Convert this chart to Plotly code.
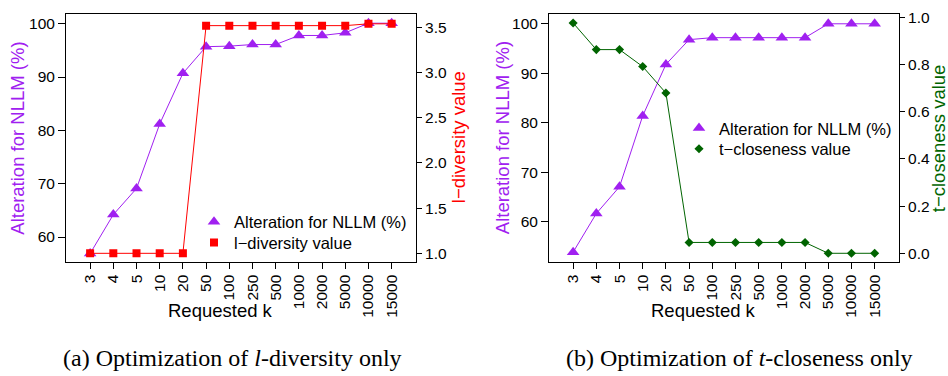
import plotly.graph_objects as go

# ---- data ----
k_labels = ["3", "4", "5", "10", "20", "50", "100", "250", "500", "1000", "2000", "5000", "10000", "15000"]

a_nllm = [56.9, 64.2, 69.1, 81.2, 90.7, 95.7, 95.8, 96.1, 96.1, 97.8, 97.8, 98.3, 100.1, 100.1]
a_ldiv = [1.0, 1.0, 1.0, 1.0, 1.0, 3.52, 3.52, 3.52, 3.52, 3.52, 3.52, 3.52, 3.54, 3.54]

b_nllm = [53.9, 61.7, 67.1, 81.4, 91.8, 96.8, 97.2, 97.2, 97.2, 97.2, 97.2, 100.0, 100.0, 100.0]
b_tclose = [0.977, 0.864, 0.864, 0.792, 0.680, 0.046, 0.046, 0.046, 0.046, 0.046, 0.046, 0.0, 0.0, 0.0]

left_ticks = [60, 70, 80, 90, 100]
ldiv_ticks = [1.0, 1.5, 2.0, 2.5, 3.0, 3.5]
tclose_ticks = [0.0, 0.2, 0.4, 0.6, 0.8, 1.0]

PURPLE = "#A020F0"
RED = "#FF0000"
GREEN = "#006400"
SANS = "Liberation Sans, Arial, sans-serif"
SERIF = "Liberation Serif, Times New Roman, serif"

W, H = 948, 376
idx = list(range(len(k_labels)))

fig = go.Figure()


def add_series(x, y, name, color, symbol, size, xa, ya, leg):
    fig.add_trace(go.Scatter(x=x, y=y, mode="lines", line=dict(color=color, width=1),
                             showlegend=False, hoverinfo="skip", xaxis=xa, yaxis=ya))
    fig.add_trace(go.Scatter(x=x, y=y, mode="markers", name=name,
                             marker=dict(symbol=symbol, size=size, color=color),
                             xaxis=xa, yaxis=ya, legend=leg, showlegend=True))


# panel (a)
add_series(idx, a_nllm, "Alteration for NLLM (%)", PURPLE, "triangle-up", 11, "x", "y", "legend")
add_series(idx, a_ldiv, "l\u2212diversity value", RED, "square", 8, "x", "y2", "legend3")
# panel (b)
add_series(idx, b_nllm, "Alteration for NLLM (%)", PURPLE, "triangle-up", 11, "x2", "y3", "legend2")
add_series(idx, b_tclose, "t\u2212closeness value", GREEN, "diamond", 7, "x2", "y4", "legend4")

ydom = [116 / H, 367 / H]
xdomA = [66 / W, 416 / W]
xdomB = [549 / W, 899 / W]

tickfont = dict(family=SANS, size=15.5, color="black")
common_axis = dict(showgrid=False, zeroline=False, ticks="outside", ticklen=6, tickwidth=1,
                   tickcolor="black", linecolor="black", linewidth=1, tickfont=tickfont)

xcommon = dict(common_axis, tickmode="array", tickvals=idx, ticktext=k_labels, tickangle=-90,
               range=[-1.04, 14.05], showline=True, mirror=True)

legfont = dict(family=SANS, size=16.5, color="black")


def leg(xpx, ypx):
    return dict(x=xpx / W, y=1 - ypx / H, xanchor="left", yanchor="middle", bgcolor="rgba(0,0,0,0)",
                font=legfont, itemwidth=30, borderwidth=0)


fig.update_layout(
    width=W, height=H, margin=dict(l=0, r=0, t=0, b=0),
    paper_bgcolor="white", plot_bgcolor="white",
    xaxis=dict(xcommon, domain=xdomA, anchor="y"),
    yaxis=dict(common_axis, domain=ydom, anchor="x", range=[55.4, 101.85], tickvals=left_ticks,
               showline=True, mirror=True, ticklen=7),
    yaxis2=dict(common_axis, overlaying="y", side="right", anchor="x", range=[0.909, 3.65],
                tickvals=ldiv_ticks, tickformat=".1f", showline=True, ticklen=5),
    xaxis2=dict(xcommon, domain=xdomB, anchor="y3"),
    yaxis3=dict(common_axis, domain=ydom, anchor="x2", range=[52.0, 102.0], tickvals=left_ticks,
                showline=True, mirror=True, ticklen=7),
    yaxis4=dict(common_axis, overlaying="y3", side="right", anchor="x2", range=[-0.035, 1.0155],
                tickvals=tclose_ticks, tickformat=".1f", showline=True, ticklen=5),
    legend=leg(194, 220),
    legend3=leg(194, 241),
    legend2=leg(679, 125),
    legend4=leg(679, 146),
    showlegend=True,
)

title_font = dict(family=SANS, size=18.5)
ann = [
    dict(text="Alteration for NLLM (%)", x=17.5 / W, y=1 - 135 / H, textangle=-90, font=dict(title_font, color=PURPLE)),
    dict(text="l\u2212diversity value", x=458 / W, y=1 - 134 / H, textangle=-90, font=dict(title_font, color=RED)),
    dict(text="Alteration for NLLM (%)", x=502 / W, y=1 - 135 / H, textangle=-90, font=dict(title_font, color=PURPLE)),
    dict(text="t\u2212closeness value", x=938 / W, y=1 - 135 / H, textangle=-90, font=dict(title_font, color=GREEN)),
    dict(text="Requested k", x=220.5 / W, y=1 - 310 / H, font=dict(title_font, color="black")),
    dict(text="Requested k", x=703 / W, y=1 - 310 / H, font=dict(title_font, color="black")),
    dict(text="(a) Optimization of <i>l</i>-diversity only", x=232 / W, y=1 - 358 / H,
         font=dict(family=SERIF, size=24, color="black")),
    dict(text="(b) Optimization of <i>t</i>-closeness only", x=739 / W, y=1 - 358 / H,
         font=dict(family=SERIF, size=24, color="black")),
]
for a in ann:
    a.update(xref="paper", yref="paper", showarrow=False, xanchor="center", yanchor="middle")
fig.update_layout(annotations=ann)

fig.write_html("out.html", config={"displayModeBar": False},
               post_script="document.body.style.margin='0';document.body.style.overflow='hidden';")
